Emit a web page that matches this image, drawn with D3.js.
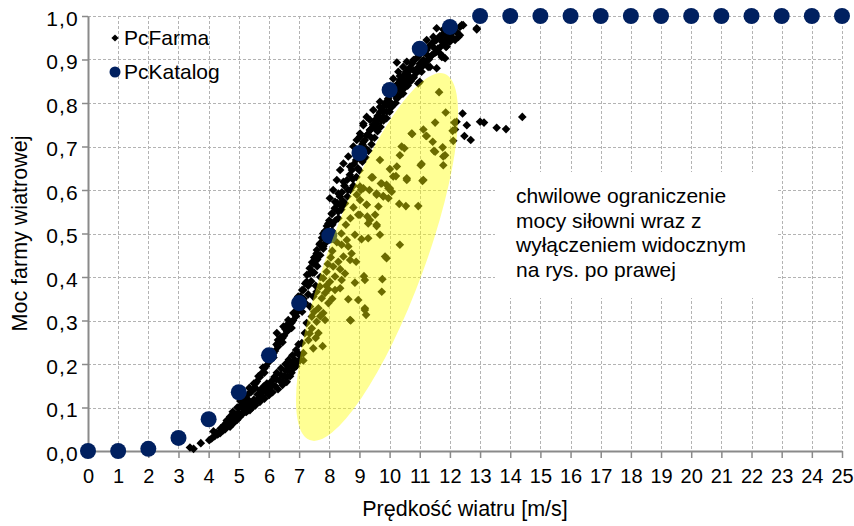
<!DOCTYPE html>
<html>
<head>
<meta charset="utf-8">
<script src="https://cdn.jsdelivr.net/npm/d3@7"></script>
<style>
  html, body { margin: 0; padding: 0; background: #fff; }
  svg { display: block; font-family: "Liberation Sans", Arial, sans-serif; }
</style>
</head>
<body>
<svg id="chart" width="854" height="526"></svg>
<script>
// ---- axis ticks ----
const speedTicks = d3.range(0, 26);
const powerTicks = [0, 0.1, 0.2, 0.3, 0.4, 0.5, 0.6, 0.7, 0.8, 0.9, 1.0];

// ---- PcKatalog: manufacturer power curve (relative power vs wind speed) ----
const katalogSpeed = [0, 1, 2, 3, 4, 5, 6, 7, 8, 9, 10, 11, 12, 13, 14, 15, 16, 17, 18, 19, 20, 21, 22, 23, 24, 25];
const katalogPower = [0, 0, 0.005, 0.03, 0.073, 0.135, 0.22, 0.34, 0.495, 0.685, 0.83, 0.925, 0.975,
                      1, 1, 1, 1, 1, 1, 1, 1, 1, 1, 1, 1, 1];

// ---- PcFarma: measured farm output [speed m/s, relative power] ----
const farmStart = [
  [3.38,0.008],[3.5,0.005],[3.74,0.018],[4.02,0.025],[4.16,0.045],[4.32,0.041],[4.49,0.048],
  [4.6,0.07],[4.8,0.09],[4.95,0.1],[4.9,0.083]
];
const farmLowerBand = [
  [4.1,0.029],[4.2,0.034],[4.3,0.038],[4.38,0.041],[4.45,0.048],[4.55,0.05],[4.62,0.058],[4.71,0.056],
  [4.75,0.068],[4.71,0.079],[4.82,0.064],[4.88,0.075],[4.95,0.072],[5.0,0.088],[5.04,0.079],[5.12,0.085],
  [5.15,0.098],[5.2,0.09],[5.26,0.106],[5.3,0.093],[5.37,0.094],[5.4,0.108],[5.45,0.1],[5.5,0.118],
  [5.55,0.105],[5.6,0.115],[5.62,0.13],[5.7,0.113],[5.72,0.14],[5.78,0.125],[5.82,0.148],[5.85,0.12],
  [5.9,0.135],[5.93,0.155],[6.0,0.128],[6.03,0.145],[6.08,0.16],[6.12,0.135],[6.18,0.17],[6.2,0.15],
  [6.26,0.18],[6.3,0.142],[6.35,0.162],[6.4,0.19],[6.45,0.152],[6.5,0.172],[6.55,0.2],[6.59,0.159],
  [6.62,0.185],[6.66,0.21],[6.7,0.172],[6.74,0.195],[6.78,0.22],[6.82,0.19],[6.86,0.209],[6.9,0.232],
  [6.94,0.205],[6.98,0.245],[7.02,0.22],
  [4.6,0.065],[4.85,0.085],[5.1,0.1],[5.25,0.09],[5.35,0.115],[5.5,0.105],[5.65,0.12],[5.75,0.135],
  [5.95,0.14],[6.1,0.15],[6.25,0.165],[6.4,0.175],[6.55,0.185],[6.65,0.195],[6.8,0.205],[6.95,0.225],
  [6.9,0.195],[6.75,0.18],[6.6,0.17],[6.45,0.16],[4.25,0.042],[4.4,0.052],[4.52,0.06],[4.68,0.072]
];
const farmUpperBand = [
  [5.0,0.1],[5.05,0.115],[5.15,0.115],[5.2,0.128],[5.3,0.13],[5.35,0.145],[5.45,0.14],[5.5,0.155],
  [5.6,0.16],[5.65,0.172],[5.75,0.178],[5.8,0.192],[5.9,0.195],[5.95,0.21],[6.05,0.212],[6.1,0.228],
  [6.2,0.23],[6.25,0.245],[6.35,0.248],[6.4,0.262],[6.5,0.265],[6.55,0.28],[6.65,0.28],[6.7,0.295],
  [6.8,0.3],[6.85,0.318],[6.95,0.32],[5.55,0.145],[5.85,0.18],[6.15,0.215],[6.45,0.25],[6.75,0.283],
  [6.26,0.271],[6.48,0.286],[6.64,0.301],[6.81,0.317],[6.97,0.355],
  [5.1,0.105],[5.25,0.12],[5.4,0.135],[5.55,0.155],[5.7,0.17],[5.85,0.19],[6.0,0.205],[6.15,0.225],
  [6.3,0.24],[6.45,0.26],[6.6,0.275],[6.75,0.295],[6.9,0.31],[6.6,0.29],[6.3,0.255],[6.0,0.22]
];
const farmMainBand = [
  [6.92,0.34],[7.0,0.33],[7.05,0.355],[7.1,0.37],[7.15,0.35],[7.2,0.385],[7.26,0.405],[7.3,0.38],
  [7.35,0.42],[7.43,0.434],[7.45,0.41],[7.5,0.445],[7.59,0.462],[7.6,0.44],[7.68,0.475],[7.76,0.49],
  [7.8,0.47],[7.85,0.505],[7.92,0.517],[7.95,0.495],[8.0,0.53],[8.09,0.545],[8.1,0.52],[8.18,0.558],
  [8.26,0.57],[8.3,0.55],[8.35,0.585],[8.42,0.595],[8.45,0.575],[8.5,0.61],[8.59,0.623],[8.62,0.6],
  [8.68,0.635],[8.75,0.646],[8.78,0.625],[8.82,0.66],[8.89,0.669],[8.95,0.65],[9.02,0.692],[9.08,0.68],
  [9.1,0.705],[9.18,0.715],[9.22,0.695],[9.28,0.728],[9.35,0.738],[9.4,0.72],[9.45,0.75],[9.52,0.761],
  [9.55,0.74],[9.6,0.77],[9.68,0.779],[9.72,0.76],[9.78,0.79],[9.85,0.80],[9.9,0.78],[9.95,0.81],
  [10.01,0.818],[10.05,0.8],[10.1,0.83],[10.18,0.837],[10.22,0.82],[10.28,0.845],[10.34,0.853],
  [10.4,0.84],[10.45,0.862],[10.54,0.871],[10.6,0.855],[10.65,0.88],[10.74,0.89],[10.8,0.875],
  [10.85,0.9],[10.94,0.906],[11.0,0.89],[11.05,0.915],[11.17,0.922],[11.25,0.91],[11.3,0.93],
  [11.4,0.936],[11.5,0.925],[11.55,0.945],[11.67,0.954],[11.75,0.94],[11.8,0.96],[11.94,0.968],[12.05,0.96],
  [7.14,0.37],[7.25,0.389],[7.36,0.408],[7.47,0.431],[7.58,0.454],[7.69,0.477],[7.8,0.5],[7.97,0.523],
  [8.08,0.546],[8.25,0.569],[8.41,0.562],[8.02,0.581],[8.19,0.573],[8.13,0.6],[8.3,0.592],[8.25,0.623],
  [8.47,0.619],[8.36,0.646],[8.47,0.661],[8.69,0.654],[8.63,0.677],[8.8,0.70],[8.91,0.715],[9.13,0.711],
  [9.02,0.73],[9.24,0.726],[9.02,0.723],[9.4,0.741],[9.13,0.753],[9.57,0.753],[9.35,0.761],[9.63,0.768],
  [9.24,0.768],[9.46,0.784],[9.79,0.78],[9.57,0.761],[9.79,0.768],[9.68,0.791],[9.9,0.799],[10.07,0.791],
  [9.68,0.803],[10.01,0.791],[10.18,0.818],[10.12,0.822],[10.45,0.822],[10.24,0.81],[10.34,0.83],
  [10.4,0.83],[10.24,0.841],[10.29,0.841],[10.57,0.845],[10.45,0.853],[10.12,0.856],[10.34,0.862],
  [10.79,0.858],[10.62,0.864],[10.29,0.872],[10.68,0.876],[11.06,0.872],[10.45,0.883],[10.95,0.882],
  [11.34,0.883],[10.24,0.893],[10.57,0.895],[10.79,0.899],[11.12,0.899],[11.34,0.906],[11.73,0.906],
  [11.84,0.903],[11.23,0.922],[11.56,0.918],[11.87,0.929],[11.4,0.937],[11.91,0.941],[12.11,0.949],
  [12.28,0.952],[11.67,0.952],[11.56,0.972],[11.78,0.969],[12.39,0.979],[12.89,0.972],[11.23,0.945],
  [11.67,0.949],[12.17,0.945],[12.22,0.963],[12.33,0.956],[12.0,0.941],[12.33,0.975],[12.44,0.979],
  [12.89,0.969],[11.28,0.883],[11.56,0.88],[11.67,0.914],[11.78,0.906],[11.45,0.952],[11.89,0.93],
  [9.35,0.738],[9.13,0.749],[9.57,0.761],
  [7.1,0.32],[7.2,0.34],[7.3,0.36],[7.4,0.39],[7.5,0.41],[7.6,0.425],[7.7,0.45],[7.8,0.465],
  [7.9,0.48],[8.0,0.5],[8.1,0.505],[8.2,0.53],[8.3,0.535],[8.4,0.555],[8.5,0.57],[8.6,0.585],
  [8.7,0.6],[8.8,0.61],[8.9,0.63],[9.0,0.645],[9.1,0.665],[9.2,0.675],[9.3,0.69],[9.4,0.705],
  [9.5,0.72],[9.6,0.735],[9.7,0.745],[9.8,0.76],[9.9,0.765],[10.0,0.78],[10.1,0.795],[10.2,0.80],
  [10.3,0.815],[10.4,0.82],[10.5,0.835],[10.6,0.84],[10.7,0.85],[10.8,0.86],[10.9,0.87],[11.0,0.875],
  [11.1,0.885],[11.2,0.895],[11.3,0.9],[11.4,0.91],[11.5,0.915],[11.6,0.925],[11.7,0.93],[11.8,0.94],
  [11.9,0.95],[12.0,0.955]
];
const farmCurtailed = [
  [11.64,0.825],[11.0,0.849],[10.95,0.845],[11.86,0.778],[11.51,0.755],[12.15,0.755],[12.09,0.736],
  [10.75,0.729],[11.12,0.739],[11.21,0.724],[11.43,0.711],[11.76,0.698],[11.47,0.69],[11.78,0.677],
  [11.78,0.657],[10.49,0.696],[10.40,0.70],[10.34,0.68],[11.06,0.66],[10.24,0.654],[10.21,0.632],
  [10.57,0.627],[11.12,0.623],[9.68,0.669],[10.01,0.648],[9.44,0.629],[9.71,0.615],[9.90,0.612],
  [10.01,0.604],[10.07,0.596],[9.13,0.604],[9.33,0.60],[9.57,0.589],[9.79,0.585],[9.96,0.581],
  [10.32,0.568],[10.54,0.563],[10.95,0.563],[8.91,0.589],[9.02,0.577],[9.24,0.566],[9.63,0.562],
  [9.02,0.543],[9.26,0.539],[9.52,0.543],[9.29,0.523],[9.57,0.517],[9.68,0.497],[8.85,0.497],
  [9.07,0.487],[9.29,0.489],[10.34,0.474],[8.58,0.485],[8.41,0.474],[8.63,0.47],[8.74,0.454],
  [8.47,0.447],[8.69,0.439],[8.89,0.435],[8.30,0.435],[9.90,0.443],[8.13,0.424],[8.36,0.418],
  [7.91,0.412],[8.52,0.408],[9.15,0.402],[8.19,0.401],[7.80,0.397],[8.02,0.389],[8.41,0.393],
  [9.76,0.395],[8.85,0.387],[7.69,0.378],[7.97,0.372],[8.19,0.37],[9.74,0.366],[7.58,0.366],
  [7.86,0.363],[8.63,0.349],[8.96,0.347],[7.47,0.355],[7.75,0.351],[7.97,0.34],[9.18,0.328],
  [9.22,0.313],[7.36,0.332],[7.64,0.328],[7.80,0.317],[7.42,0.309],[7.58,0.297],[7.86,0.301],
  [8.71,0.30],[7.25,0.294],[7.42,0.282],[7.64,0.271],[7.19,0.271],[7.31,0.255],[7.09,0.248],
  [7.78,0.241],[7.47,0.236],[7.14,0.225],[7.03,0.209],[7.14,0.208],
  [8.52,0.569],[8.96,0.543],[9.24,0.566],[9.35,0.531],[9.57,0.52],[9.85,0.447],[9.18,0.393],
  [8.36,0.374],[8.69,0.301],[9.18,0.324],[9.02,0.608],[9.4,0.629],[9.74,0.615],[9.96,0.604],
  [10.73,0.73],[11.23,0.724],[11.51,0.688],[11.84,0.68],[11.03,0.657],[11.09,0.621],[10.12,0.631],
  [10.57,0.623],[9.79,0.586],[9.57,0.592],[8.1,0.46],[8.25,0.48],[8.05,0.445],[7.95,0.43],
  [8.4,0.5],[8.55,0.52],[8.7,0.535],[8.8,0.56],[9.05,0.6],[7.7,0.4],[7.55,0.38],[7.9,0.38],
  [8.1,0.35],[7.5,0.32],[7.7,0.31],[7.35,0.27],[7.55,0.26]
];
const farmHighWind = [
  [12.42,0.776],[12.56,0.749],[12.48,0.724],[12.69,0.715],[13.0,0.757],[13.13,0.755],[13.55,0.743],
  [13.86,0.74],[14.4,0.768],[12.17,0.739],[12.11,0.713],[12.22,0.757]
];

const noteLines = ["chwilowe ograniczenie", "mocy siłowni wraz z", "wyłączeniem widocznym", "na rys. po prawej"];

// ---- layout ----
const svg = d3.select("#chart");
const x = d3.scaleLinear().domain([0, 25]).range([88, 842]);
const y = d3.scaleLinear().domain([0, 1]).range([451, 16]);
const plFmt = d3.formatLocale({ decimal: ",", thousands: " ", grouping: [3], currency: ["", " zł"] }).format(".1f");
const crisp = v => Math.round(v) + 0.5;

// dashed grid
const grid = svg.append("g")
  .attr("stroke", "#b3b3b3").attr("stroke-width", 1).attr("stroke-dasharray", "3,2").attr("fill", "none");
grid.selectAll("line.v").data(speedTicks.filter(d => d > 0)).join("line")
  .attr("x1", d => crisp(x(d))).attr("x2", d => crisp(x(d)))
  .attr("y1", y(1)).attr("y2", y(0));
grid.selectAll("line.h").data(powerTicks.filter(d => d > 0)).join("line")
  .attr("y1", d => crisp(y(d))).attr("y2", d => crisp(y(d)))
  .attr("x1", x(0)).attr("x2", x(25));

// annotation text on a white panel
const note = svg.append("g");
note.append("rect").attr("x", 495).attr("y", 172).attr("width", 282).attr("height", 126).attr("fill", "#fff");
note.append("text").attr("x", 516).attr("y", 203).attr("font-size", 21).attr("fill", "#000")
  .selectAll("tspan").data(noteLines).join("tspan")
  .attr("x", 516).attr("dy", (d, i) => i === 0 ? 0 : 24.6).text(d => d);

// axes
const axisColor = "#8a8a8a";
const xAxis = svg.append("g").attr("transform", `translate(0,${y(0)})`)
  .call(d3.axisBottom(x).tickValues(speedTicks).tickSize(7).tickSizeOuter(0).tickPadding(11).tickFormat(d3.format("d")));
const yAxis = svg.append("g").attr("transform", `translate(${x(0)},0)`)
  .call(d3.axisLeft(y).tickValues(powerTicks).tickSize(6).tickSizeOuter(0).tickPadding(3).tickFormat(plFmt));
[xAxis, yAxis].forEach(g => {
  g.select(".domain").attr("stroke", axisColor).attr("stroke-width", 2);
  g.selectAll(".tick line").attr("stroke", axisColor).attr("stroke-width", 1.5);
  g.selectAll(".tick text").attr("fill", "#000").attr("font-size", 20)
    .attr("font-family", "'Liberation Sans', Arial, sans-serif");
});
yAxis.selectAll(".tick text").attr("dy", "0.45em").attr("font-size", 21).attr("letter-spacing", 1.2);

// axis titles
svg.append("text").attr("x", (x(0) + x(25)) / 2).attr("y", 516).attr("text-anchor", "middle")
  .attr("font-size", 21.5).attr("fill", "#000").text("Prędkość wiatru [m/s]");
svg.append("text").attr("transform", `translate(27,${(y(0) + y(1)) / 2}) rotate(-90)`)
  .attr("text-anchor", "middle").attr("font-size", 21.5).attr("fill", "#000").text("Moc farmy wiatrowej");

// PcFarma diamonds
const diamond = "M0,-4.3L4.3,0L0,4.3L-4.3,0Z";
const farm = [].concat(farmStart, farmLowerBand, farmUpperBand, farmMainBand, farmCurtailed, farmHighWind);
svg.append("g").selectAll("path").data(farm).join("path")
  .attr("d", diamond).attr("fill", "#000")
  .attr("transform", d => `translate(${x(d[0])},${y(d[1])})`);

// PcKatalog circles
const katalogBlue = "#002060";
svg.append("g").selectAll("circle").data(katalogSpeed.map((s, i) => [s, katalogPower[i]])).join("circle")
  .attr("cx", d => x(d[0])).attr("cy", d => y(d[1])).attr("r", 8).attr("fill", katalogBlue);

// highlighted curtailment zone (translucent ellipse along the scattered points)
const zone = { from: [7.35, 0.025], to: [11.82, 0.867] };
const p1 = [x(zone.from[0]), y(zone.from[1])], p2 = [x(zone.to[0]), y(zone.to[1])];
const cx = (p1[0] + p2[0]) / 2, cy = (p1[1] + p2[1]) / 2;
const rx = Math.hypot(p2[0] - p1[0], p2[1] - p1[1]) / 2;
const ang = Math.atan2(p2[1] - p1[1], p2[0] - p1[0]) * 180 / Math.PI;
svg.append("ellipse")
  .attr("cx", 0).attr("cy", 0).attr("rx", rx).attr("ry", 48)
  .attr("transform", `translate(${cx},${cy}) rotate(${ang})`)
  .attr("fill", "#ffff00").attr("fill-opacity", 0.42);

// legend
const legend = svg.append("g");
legend.append("path").attr("d", "M0,-3.6L3.6,0L0,3.6L-3.6,0Z").attr("fill", "#000").attr("transform", "translate(115,38)");
legend.append("text").attr("x", 124).attr("y", 45).attr("font-size", 21).attr("fill", "#000").text("PcFarma");
legend.append("circle").attr("cx", 115).attr("cy", 72).attr("r", 5.5).attr("fill", katalogBlue);
legend.append("text").attr("x", 124).attr("y", 79).attr("font-size", 21).attr("fill", "#000").text("PcKatalog");
</script>
</body>
</html>
